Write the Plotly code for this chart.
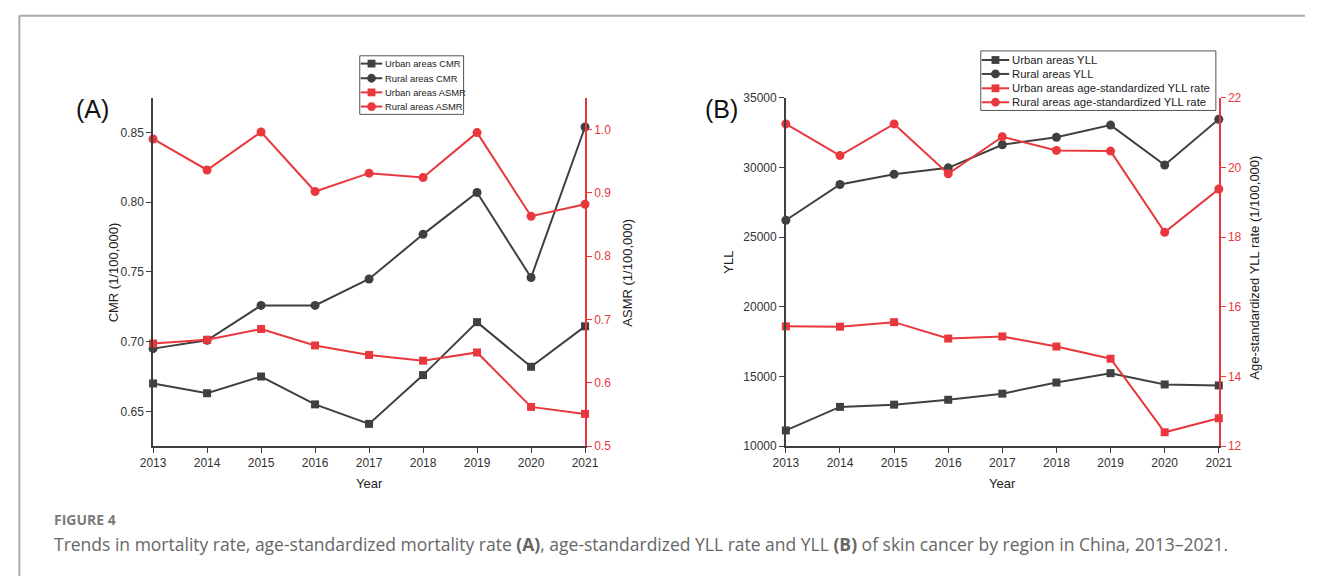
import plotly.graph_objects as go

# ---- data ----
years = [2013, 2014, 2015, 2016, 2017, 2018, 2019, 2020, 2021]

# Panel A: crude (CMR) and age-standardized (ASMR) mortality rates, per 100,000
urban_cmr = [0.670, 0.663, 0.675, 0.655, 0.641, 0.676, 0.714, 0.682, 0.711]
rural_cmr = [0.695, 0.701, 0.726, 0.726, 0.745, 0.777, 0.807, 0.746, 0.854]
urban_asmr = [0.662, 0.668, 0.685, 0.659, 0.644, 0.635, 0.648, 0.562, 0.551]
rural_asmr = [0.985, 0.936, 0.996, 0.902, 0.931, 0.924, 0.995, 0.863, 0.882]

# Panel B: years of life lost and age-standardized YLL rate
urban_yll = [11130, 12820, 12980, 13330, 13770, 14570, 15240, 14430, 14360]
rural_yll = [26210, 28780, 29510, 29970, 31630, 32170, 33040, 30180, 33460]
urban_yll_rate = [15.44, 15.43, 15.56, 15.09, 15.15, 14.86, 14.51, 12.40, 12.80]
rural_yll_rate = [21.25, 20.34, 21.25, 19.82, 20.88, 20.49, 20.47, 18.14, 19.38]

W, H = 1319, 583
GRAY = "#404040"
RED = "#E8383D"
AXIS_FONT = "Liberation Sans, Arial, sans-serif"


def px(x):
    """pixel x -> paper fraction"""
    return x / W


def py(y):
    """pixel y (from top) -> paper fraction"""
    return (H - y) / H


fig = go.Figure()


def add_line(x, y, name, color, symbol, xa, ya, group):
    fig.add_trace(go.Scatter(
        x=x, y=y, name=name, mode="lines+markers",
        line=dict(color=color, width=2),
        marker=dict(symbol=symbol, size=9 if symbol == "circle" else 8, color=color),
        xaxis=xa, yaxis=ya, legendgroup=group, cliponaxis=False, showlegend=False,
    ))


# panel A
add_line(years, urban_cmr, "Urban areas CMR", GRAY, "square", "x", "y", "A")
add_line(years, rural_cmr, "Rural areas CMR", GRAY, "circle", "x", "y", "A")
add_line(years, urban_asmr, "Urban areas ASMR", RED, "square", "x", "y2", "A")
add_line(years, rural_asmr, "Rural areas ASMR", RED, "circle", "x", "y2", "A")

# panel B
add_line(years, urban_yll, "Urban areas YLL", GRAY, "square", "x2", "y3", "B")
add_line(years, rural_yll, "Rural areas YLL", GRAY, "circle", "x2", "y3", "B")
add_line(years, urban_yll_rate, "Urban areas age-standardized YLL rate", RED, "square", "x2", "y4", "B")
add_line(years, rural_yll_rate, "Rural areas age-standardized YLL rate", RED, "circle", "x2", "y4", "B")

tick_font = dict(family=AXIS_FONT, size=12, color="#333333")
red_tick_font = dict(family=AXIS_FONT, size=12, color=RED)


def xaxis(domain, anchor):
    return dict(
        domain=domain, anchor=anchor, range=[2013, 2021], tickmode="array",
        tickvals=years, ticktext=[str(v) for v in years],
        showline=True, linecolor=GRAY, linewidth=1.5, ticks="outside",
        ticklen=5, tickcolor=GRAY, tickfont=tick_font, showgrid=False,
        zeroline=False,
    )


def yaxis(domain, anchor, rng, dtick, fmt, side="left", overlay=None, red=False):
    d = dict(
        domain=domain, anchor=anchor, range=rng, dtick=dtick, tickformat=fmt,
        side=side, showline=True, linecolor=RED if red else GRAY, linewidth=1.5,
        ticks="outside", ticklen=5, tickcolor=RED if red else GRAY,
        tickfont=red_tick_font if red else tick_font, showgrid=False,
        zeroline=False,
    )
    if overlay:
        d["overlaying"] = overlay
    return d


ydom = [py(450), py(93)]
xdomA = [px(143), px(584)]
xdomB = [px(789), px(1231)]

fig.update_layout(
    width=W, height=H, margin=dict(l=0, r=0, t=0, b=0),
    paper_bgcolor="white", plot_bgcolor="white", showlegend=False,
    xaxis=xaxis(xdomA, "y"),
    yaxis=yaxis(ydom, "x", [0.625, 0.875], 0.05, ".2f"),
    yaxis2=yaxis(ydom, "x", [0.5, 1.05], 0.1, ".1f", side="right", overlay="y", red=True),
    xaxis2=xaxis(xdomB, "y3"),
    yaxis3=yaxis(ydom, "x2", [10000, 35000], 5000, "d"),
    yaxis4=yaxis(ydom, "x2", [12, 22], 2, "d", side="right", overlay="y3", red=True),
)


# compact boxed legends, built from the traces of each panel
def draw_legend(group, box, rows, line_x, text_x, font_size):
    bx0, by0, bx1, by1 = box
    fig.add_shape(type="rect", xref="paper", yref="paper",
                  x0=px(bx0), x1=px(bx1), y0=py(by0), y1=py(by1),
                  line=dict(color="#555555", width=1), fillcolor="white", layer="above")
    traces = [t for t in fig.data if t.legendgroup == group]
    for tr, ry in zip(traces, rows):
        c = tr.line.color
        fig.add_shape(type="line", xref="paper", yref="paper",
                      x0=px(line_x[0]), x1=px(line_x[1]), y0=py(ry), y1=py(ry),
                      line=dict(color=c, width=2), layer="above")
        mx = (line_x[0] + line_x[1]) / 2
        if tr.marker.symbol == "square":
            r = 4
            fig.add_shape(type="rect", xref="paper", yref="paper",
                          x0=px(mx - r), x1=px(mx + r), y0=py(ry - r), y1=py(ry + r),
                          line=dict(width=0), fillcolor=c, layer="above")
        else:
            r = 4.5
            fig.add_shape(type="circle", xref="paper", yref="paper",
                          x0=px(mx - r), x1=px(mx + r), y0=py(ry - r), y1=py(ry + r),
                          line=dict(width=0), fillcolor=c, layer="above")
        fig.add_annotation(xref="paper", yref="paper", x=px(text_x), y=py(ry),
                           xanchor="left", yanchor="middle", showarrow=False,
                           text=tr.name,
                           font=dict(family=AXIS_FONT, size=font_size, color="#222222"))


draw_legend("A", (354, 50, 460, 110), [58, 73, 87.5, 102], (355, 377), 378, 9.4)
draw_legend("B", (988, 45, 1228, 106), [54.3, 68.6, 83.3, 97.6], (989, 1017), 1018, 11.3)

annotations = [
    dict(text="(A)", x=px(81), y=py(105), font=dict(family=AXIS_FONT, size=25, color="#111111")),
    dict(text="(B)", x=px(723), y=py(105), font=dict(family=AXIS_FONT, size=25, color="#111111")),
    dict(text="CMR (1/100,000)", x=px(103), y=py(272), textangle=-90),
    dict(text="ASMR (1/100,000)", x=px(627), y=py(272), textangle=-90),
    dict(text="Year", x=px(364), y=py(488)),
    dict(text="YLL", x=px(731), y=py(262), textangle=-90),
    dict(text="Age-standardized YLL rate (1/100,000)", x=px(1268), y=py(267), textangle=-90),
    dict(text="Year", x=px(1010), y=py(488)),
]
for a in annotations:
    a.setdefault("font", dict(family=AXIS_FONT, size=13, color="#222222"))
    fig.add_annotation(xref="paper", yref="paper", showarrow=False,
                       xanchor="center", yanchor="middle", **a)

# caption block
fig.add_annotation(
    xref="paper", yref="paper", x=px(40), y=py(525), xanchor="left", yanchor="middle",
    showarrow=False, text="<b>FIGURE 4</b>",
    font=dict(family="Open Sans, sans-serif", size=14, color="#7a7a7a"),
)
fig.add_annotation(
    xref="paper", yref="paper", x=px(40), y=py(550), xanchor="left", yanchor="middle",
    showarrow=False,
    text=("Trends in mortality rate, age-standardized mortality rate <b>(A)</b>, "
          "age-standardized YLL rate and YLL <b>(B)</b> of skin cancer by region in China, 2013\u20132021."),
    font=dict(family="Open Sans, sans-serif", size=17.5, color="#666666"),
)

# outer frame: top and left edges, kept inside the paper
frame = dict(color="#aaaaaa", width=2)
fig.add_shape(type="line", xref="paper", yref="paper",
              x0=px(6.5), x1=1, y0=py(9), y1=py(9), line=frame, layer="below")
fig.add_shape(type="line", xref="paper", yref="paper",
              x0=px(6.5), x1=px(6.5), y0=py(9), y1=0, line=frame, layer="below")

fig.write_html("out.html")
